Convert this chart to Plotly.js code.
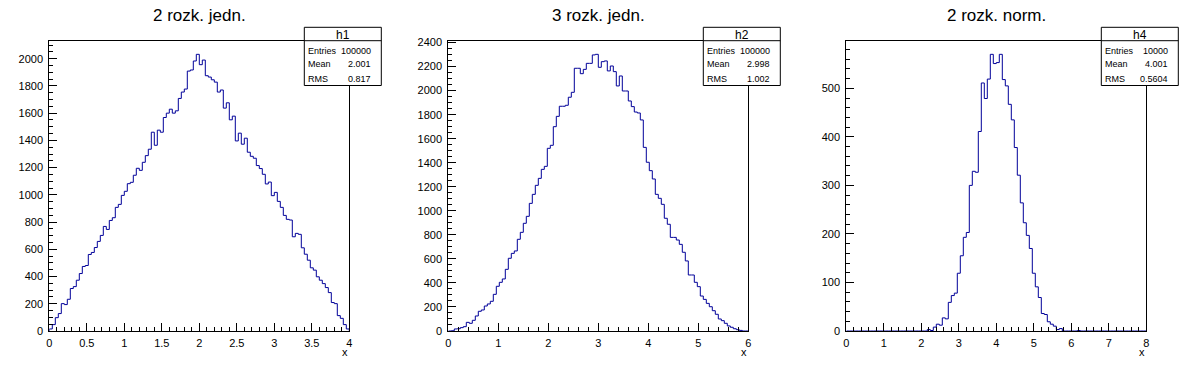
<!DOCTYPE html>
<html>
<head>
<meta charset="utf-8">
<script src="https://cdn.plot.ly/plotly-3.0.1.min.js"></script>
<style>
  html, body { margin: 0; padding: 0; background: #fff; }
  #chart { width: 1196px; height: 372px; }
</style>
</head>
<body>
<div id="chart"></div>
<script>
// ---- data (bin contents) ----
const titles = ["2 rozk. jedn.", "3 rozk. jedn.", "2 rozk. norm."];
const histNames = ["h1", "h2", "h4"];
const xRanges = [[0, 4], [0, 6], [0, 8]];
const entries = ["100000", "100000", "10000"];
const means = ["2.001", "2.998", "4.001"];
const rmss = ["0.817", "1.002", "0.5604"];

const h1 = [15,47,98,128,201,194,233,312,326,373,
  422,474,481,562,577,613,658,702,768,746,
  812,832,908,930,996,1026,1082,1092,1144,1195,
  1180,1239,1288,1335,1460,1364,1475,1460,1568,1600,
  1629,1600,1617,1708,1755,1777,1909,1917,1983,2032,
  1956,1990,1875,1865,1845,1828,1755,1770,1637,1676,
  1551,1578,1396,1453,1372,1416,1313,1283,1269,1215,
  1193,1151,1080,1094,994,1018,952,908,849,820,
  815,692,717,710,611,564,520,464,447,398,
  373,348,319,282,209,201,113,93,47,15];

const h2 = [0,2,17,19,28,36,72,64,89,125,
  164,175,208,225,247,305,372,405,433,513,
  605,646,666,763,821,896,954,1062,1137,1212,
  1270,1345,1370,1520,1545,1700,1786,1870,1870,1878,
  1945,1986,2186,2186,2141,2177,2227,2227,2297,2302,
  2194,2241,2247,2164,2205,2158,2039,2122,1997,1997,
  1914,1867,1822,1814,1756,1528,1404,1334,1265,1137,
  1104,1054,938,888,779,779,757,721,655,583,
  466,466,405,369,291,263,230,202,169,139,
  100,86,64,42,31,19,11,5,0,0];

const h4 = [0,0,0,0,0,0,0,0,0,0,
  0,0,0,0,0,0,0,0,0,0,
  0,0,0,0,0,0,0,3,1,8,
  14,12,27,25,59,73,78,119,155,193,
  203,300,329,327,411,511,479,519,570,551,
  553,570,518,505,467,435,378,321,264,223,
  197,170,119,91,69,36,34,19,14,10,
  3,5,0,0,0,0,0,1,0,0,
  0,0,0,0,0,0,0,0,0,0,
  0,0,0,0,0,0,0,0,0,0];

const yDticks = [200, 200, 100];
const yMinor = [50, 50, 20];
const xDticks = [0.5, 1, 1];
const xMinor = [0.1, 0.2, 0.2];

// ---- layout geometry (pixels) ----
const W = 1196, H = 372;
const frameLeft = [49.3, 448.3, 846.3];
const frameW = 300;
const frameTop = 40.5, frameBottom = 331;
const padW = W / 3;

const px = v => v / W;
const py = v => 1 - v / H;

const hists = [h1, h2, h4];
const font = "Liberation Sans, Arial, Helvetica, sans-serif";
const lineColor = "#000099";

const data = [];
const layout = {
  width: W, height: H,
  margin: {l: 0, r: 0, t: 0, b: 0},
  paper_bgcolor: "#ffffff",
  plot_bgcolor: "#ffffff",
  showlegend: false,
  font: {family: font, color: "#000"},
  shapes: [],
  annotations: []
};

hists.forEach((vals, i) => {
  const [x0, x1] = xRanges[i];
  const n = vals.length;
  const w = (x1 - x0) / n;
  const xs = [x0], ys = [0];
  for (let k = 0; k < n; k++) { xs.push(x0 + k * w); ys.push(vals[k]); }
  xs.push(x1); ys.push(vals[n - 1]);
  xs.push(x1); ys.push(0);
  const suf = i === 0 ? "" : String(i + 1);
  data.push({
    type: "scatter", mode: "lines", x: xs, y: ys,
    xaxis: "x" + suf, yaxis: "y" + suf,
    line: {shape: "hv", color: lineColor, width: 1},
    hoverinfo: "skip"
  });
  const ymax = 1.05 * Math.max(...vals);
  const common = {
    showline: true, mirror: true, linecolor: "#000", linewidth: 1,
    showgrid: false, zeroline: false, ticks: "inside", tickcolor: "#000",
    tickwidth: 1, ticklen: 8, fixedrange: true, layer: "above traces",
    tickfont: {family: font, size: 11, color: "#000"},
    exponentformat: "none"
  };
  layout["xaxis" + suf] = Object.assign({}, common, {
    domain: [px(frameLeft[i]), px(frameLeft[i] + frameW)],
    anchor: "y" + suf, range: [x0, x1], tick0: x0, dtick: xDticks[i],
    ticklabelstandoff: 2,
    minor: {ticks: "inside", dtick: xMinor[i], tick0: x0, ticklen: 4, tickcolor: "#000", showgrid: false}
  });
  layout["yaxis" + suf] = Object.assign({}, common, {
    domain: [py(frameBottom), py(frameTop)],
    anchor: "x" + suf, range: [0, ymax], tick0: 0, dtick: yDticks[i],
    ticklabelstandoff: 3,
    minor: {ticks: "inside", dtick: yMinor[i], tick0: 0, ticklen: 4, tickcolor: "#000", showgrid: false}
  });

  // title
  layout.annotations.push({
    xref: "paper", yref: "paper", x: px(padW * i + padW / 2), y: py(16),
    xanchor: "center", yanchor: "middle", showarrow: false,
    text: titles[i], font: {family: font, size: 17, color: "#000"}
  });
  // axis title "x"
  const fr = frameLeft[i] + frameW;
  layout.annotations.push({
    xref: "paper", yref: "paper", x: px(fr + 1), y: py(352),
    xanchor: "right", yanchor: "middle", showarrow: false,
    text: "x", font: {family: font, size: 11, color: "#000"}
  });

  // stats box
  const bl = fr - 45, br = fr + 32, bt = 27.3, bb = 85.5, hl = 40.7;
  layout.shapes.push({
    type: "rect", xref: "paper", yref: "paper",
    x0: px(bl), x1: px(br), y0: py(bb), y1: py(bt),
    line: {color: "#000", width: 1}, fillcolor: "#ffffff", layer: "above"
  });
  layout.shapes.push({
    type: "line", xref: "paper", yref: "paper",
    x0: px(bl), x1: px(br), y0: py(hl), y1: py(hl),
    line: {color: "#000", width: 1}, layer: "above"
  });
  layout.annotations.push({
    xref: "paper", yref: "paper", x: px((bl + br) / 2), y: py(35),
    xanchor: "center", yanchor: "middle", showarrow: false,
    text: histNames[i], font: {family: font, size: 12, color: "#000"}
  });
  const rows = [["Entries", entries[i], 50.5], ["Mean", means[i], 64.5], ["RMS", rmss[i], 79]];
  rows.forEach(r => {
    layout.annotations.push({
      xref: "paper", yref: "paper", x: px(bl + 2), y: py(r[2]),
      xanchor: "left", yanchor: "middle", showarrow: false,
      text: r[0], font: {family: font, size: 9, color: "#000"}
    });
    layout.annotations.push({
      xref: "paper", yref: "paper", x: px(br - 8), y: py(r[2]),
      xanchor: "right", yanchor: "middle", showarrow: false,
      text: r[1], font: {family: font, size: 9, color: "#000"}
    });
  });
});

Plotly.newPlot("chart", data, layout, {displayModeBar: false, staticPlot: true});
</script>
</body>
</html>
